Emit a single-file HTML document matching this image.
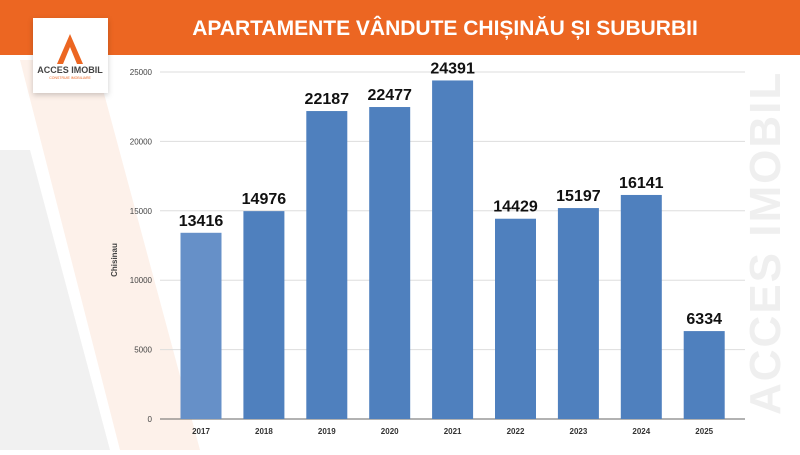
<!DOCTYPE html>
<html><head><meta charset="utf-8"><style>
body{margin:0;width:800px;height:450px;overflow:hidden;background:#fff;font-family:"Liberation Sans",sans-serif}
</style></head><body>
<svg width="800" height="450" xmlns="http://www.w3.org/2000/svg">
<g>
<polygon points="0,150 30,150 110,450 0,450" fill="#f1f1f1"/>
<polygon points="20,60 95,60 200,450 120,450" fill="#fdf1ea"/>
<text x="780" y="415" transform="rotate(-90 780 415)" font-size="44" font-weight="bold" fill="#efefef" letter-spacing="2">ACCES IMOBIL</text>
</g>
<rect x="0" y="0" width="800" height="55" fill="#ec6622"/>
<text x="445" y="35" text-anchor="middle" font-size="21" font-weight="bold" fill="#fff">APARTAMENTE VÂNDUTE CHIȘINĂU ȘI SUBURBII</text>
<g>
<rect x="33" y="18" width="75" height="75" fill="#fff" style="filter:drop-shadow(0 2px 3px rgba(0,0,0,.2))"/>
<polygon points="70,34 83,64 77,64 70,47 63,64 57,64" fill="#ec6622"/>
<text x="70" y="73" text-anchor="middle" font-size="9" font-weight="bold" fill="#444">ACCES IMOBIL</text>
<text x="70" y="79" text-anchor="middle" font-size="3.5" fill="#ec6622">CONSTRUIE IMOBILIARE</text>
</g>
<g id="axes"></g>
<g id="bars"></g>
<text x="117" y="260" transform="rotate(-90 117 260)" text-anchor="middle" font-size="8" font-weight="bold" fill="#444">Chisinau</text>
</svg>
<script>
const categories=["2017","2018","2019","2020","2021","2022","2023","2024","2025"];
const values=[13416,14976,22187,22477,24391,14429,15197,16141,6334];
const yTicks=[0,5000,10000,15000,20000,25000];
const ns="http://www.w3.org/2000/svg";
const x0=160,x1=745,y0=419,yTop=72,yMax=25000;
const y=v=>y0-(v/yMax)*(y0-yTop);
const step=62.9;
const xc=i=>201+step*i;
function mk(t,a,p){const e=document.createElementNS(ns,t);for(const k in a)e.setAttribute(k,a[k]);p.appendChild(e);return e;}
const ax=document.getElementById('axes'),bg=document.getElementById('bars');
yTicks.forEach(t=>{
 const l=mk('line',{x1:x0,x2:x1,y1:y(t),y2:y(t),stroke:t===0?'#666':'#ddd','stroke-width':1},ax);
 
 
 const tx=mk('text',{x:152,y:y(t)+3,'text-anchor':'end','font-size':8,fill:'#444'},ax);
 tx.textContent=t;
 
 
});
categories.forEach((c,i)=>{
 const r=mk('rect',{x:xc(i)-20.5,y:y(values[i]),width:41,height:y0-y(values[i]),fill:i===0?'#6690c8':'#4f80be'},bg);
 
 
 const v=mk('text',{x:xc(i),y:y(values[i])-7,'text-anchor':'middle','font-size':16,'font-weight':'bold',fill:'#111'},bg);
 v.textContent=values[i];
 
 
 const cl=mk('text',{x:xc(i),y:434,'text-anchor':'middle','font-size':8,'font-weight':'bold',fill:'#333'},bg);
 cl.textContent=c;
 
 
});
</script>
</body></html>
